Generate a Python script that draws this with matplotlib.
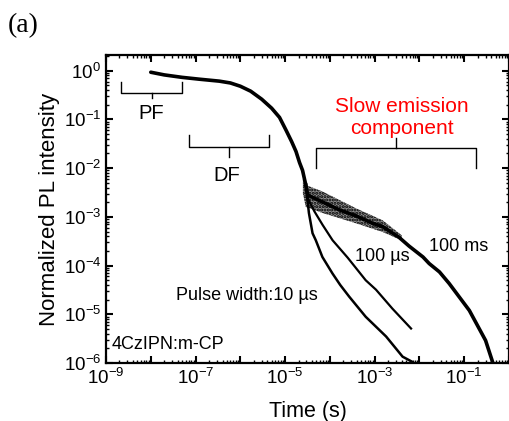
import numpy as np
import matplotlib
matplotlib.use('Agg')
import matplotlib.pyplot as plt
from matplotlib.ticker import LogLocator, FuncFormatter, NullFormatter

plt.rcParams['font.family'] = ['Liberation Sans', 'DejaVu Sans']
plt.rcParams['mathtext.fontset'] = 'custom'
plt.rcParams['mathtext.rm'] = 'Liberation Sans'
plt.rcParams['mathtext.it'] = 'Liberation Sans:italic'
plt.rcParams['mathtext.bf'] = 'Liberation Sans:bold'
plt.rcParams['hatch.linewidth'] = 1.5

# shared prompt + delayed fluorescence decay (all three pulse widths overlap here)
t_common = [1e-8, 2e-8, 5e-8, 1.2e-7, 3.4e-7, 6e-7, 1e-6, 1.7e-6, 3e-6, 5e-6,
            7.5e-6, 1.05e-5, 1.4e-5, 1.75e-5, 2.1e-5, 2.45e-5, 2.9e-5]
I_common = [0.93, 0.82, 0.73, 0.67, 0.61, 0.56, 0.48, 0.38, 0.26, 0.17,
            0.11, 0.06, 0.035, 0.022, 0.013, 9e-3, 4.5e-3]

# pulse width 10 us
t_10us = [2.9e-5, 3.4e-5, 4.1e-5, 4.85e-5, 6.8e-5, 1.14e-4, 1.7e-4, 2.7e-4,
          6.3e-4, 1.8e-3, 4.2e-3, 7e-3]
I_10us = [4.5e-3, 1.2e-3, 4.6e-4, 3.3e-4, 1.5e-4, 6.9e-5, 4e-5, 2.3e-5,
          8.9e-6, 3.5e-6, 1.35e-6, 1.05e-6]

# pulse width 100 us
t_100us = [2.9e-5, 3.2e-5, 4.5e-5, 6.9e-5, 1.15e-4, 2.5e-4, 6.3e-4, 1.07e-3,
           2.5e-3, 6.5e-3]
I_100us = [4.5e-3, 2.4e-3, 1.3e-3, 6.8e-4, 3.3e-4, 1.45e-4, 5e-5, 3.2e-5,
           1.3e-5, 5.1e-6]

# pulse width 100 ms
t_100ms = [2.9e-5, 3.2e-5, 7e-5, 1.6e-4, 3.8e-4, 9e-4, 1.5e-3, 3.5e-3, 5.9e-3,
           1.2e-2, 1.65e-2, 2.8e-2, 4.6e-2, 0.13, 0.3, 0.43]
I_100ms = [4.5e-3, 2.8e-3, 2.0e-3, 1.4e-3, 1.05e-3, 7.4e-4, 6.3e-4, 3.8e-4,
           2.5e-4, 1.5e-4, 1.1e-4, 7.4e-5, 4.3e-5, 1.2e-5, 2.9e-6, 1.05e-6]

# scatter band of the 100 ms trace
t_band = [2.5e-5, 2.9e-5, 6.9e-5, 3.8e-4, 1.5e-3, 4e-3]
band_lo = [3e-3, 1.6e-3, 1.2e-3, 7.4e-4, 4.9e-4, 3.3e-4]
band_hi = [6e-3, 4.5e-3, 3.3e-3, 1.5e-3, 8.5e-4, 4.2e-4]

fig = plt.figure(figsize=(5.1, 4.21), dpi=100)
ax = fig.add_axes([106 / 510, 58 / 421, 403 / 510, 308 / 421])

ax.fill_between(t_band, band_lo, band_hi, facecolor='0.55', edgecolor='black',
                hatch='.....', linewidth=0)
ax.plot(t_common, I_common, color='black', lw=2.6, solid_capstyle='round')
ax.plot(t_10us, I_10us, color='black', lw=1.8)
ax.plot(t_100us, I_100us, color='black', lw=1.6)
ax.plot(t_100ms, I_100ms, color='black', lw=2.6)

ax.set_xscale('log')
ax.set_yscale('log')
ax.set_xlim(1e-9, 1)
ax.set_ylim(1e-6, 2.1)

ax.xaxis.set_major_locator(LogLocator(base=10, numticks=20))
ax.yaxis.set_major_locator(LogLocator(base=10, numticks=20))
ax.xaxis.set_minor_locator(LogLocator(base=10, subs=np.arange(2, 10), numticks=20))
ax.yaxis.set_minor_locator(LogLocator(base=10, subs=np.arange(2, 10), numticks=20))
ax.xaxis.set_minor_formatter(NullFormatter())
ax.yaxis.set_minor_formatter(NullFormatter())


def xfmt(v, pos):
    e = int(round(np.log10(v)))
    if e % 2 == 0:
        return ''
    return r'$\mathregular{10^{%d}}$' % e


def yfmt(v, pos):
    e = int(round(np.log10(v)))
    return r'$\mathregular{10^{%d}}$' % e


ax.xaxis.set_major_formatter(FuncFormatter(xfmt))
ax.yaxis.set_major_formatter(FuncFormatter(yfmt))
ax.tick_params(which='both', direction='in', top=True, right=True, labelsize=13.5)
ax.tick_params(which='major', length=5, width=1.5)
ax.tick_params(which='minor', length=2.5, width=1.0)
for s in ax.spines.values():
    s.set_linewidth(1.6)

ax.set_xlabel('Time (s)', fontsize=15.5, va='center')
ax.set_ylabel('Normalized PL intensity', fontsize=16, va='center')
ax.xaxis.set_label_coords(0.5, -0.156)
ax.yaxis.set_label_coords(-0.139, 0.5)


def bracket(x0, x1, ybar, yend, ytip):
    xm = np.sqrt(x0 * x1)
    kw = dict(color='black', lw=1.0)
    ax.plot([x0, x0, x1, x1], [yend, ybar, ybar, yend], **kw)
    ax.plot([xm, xm], [ybar, ytip], **kw)


bracket(2.2e-9, 4.9e-8, 0.35, 0.59, 0.275)
bracket(7.2e-8, 4.4e-6, 0.0275, 0.048, 0.017)
bracket(4.9e-5, 0.18, 0.0256, 0.01, 0.041)

ax.text(1.04e-8, 0.135, 'PF', fontsize=14.5, ha='center', va='center')
ax.text(5e-7, 6.9e-3, 'DF', fontsize=14.5, ha='center', va='center')
ax.text(4.1e-3, 0.11, 'Slow emission\ncomponent', fontsize=15, color='red',
        ha='center', va='center', linespacing=1.2)
ax.text(7.4e-2, 2.5e-4, '100 ms', fontsize=13, ha='center', va='center')
ax.text(1.45e-3, 1.53e-4, '100 µs', fontsize=13, ha='center', va='center')
ax.text(1.4e-6, 2.4e-5, 'Pulse width:10 µs', fontsize=13, ha='center', va='center')
ax.text(1.36e-9, 2.45e-6, '4CzIPN:m-CP', fontsize=13, ha='left', va='center')

fig.text(8 / 510, 1 - 26 / 421, '(a)', fontsize=20, family='Liberation Serif',
         ha='left', va='center')

fig.savefig('out.png', dpi=100)
